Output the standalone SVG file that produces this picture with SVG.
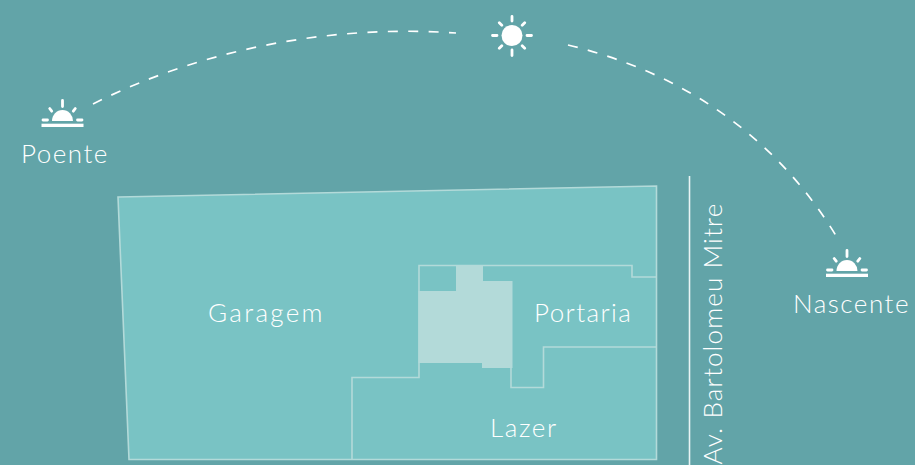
<svg xmlns="http://www.w3.org/2000/svg" width="915" height="465" viewBox="0 0 915 465">
<style>
text{font-family:Lato,"Open Sans",sans-serif;font-weight:300;font-size:26px;fill:#fff;letter-spacing:1.5px}
.l{fill:none;stroke:#b3dad9;stroke-width:1.6}
.d{fill:none;stroke:#fff;stroke-width:1.7;stroke-dasharray:10 10.4}
.r{fill:none;stroke:#fff;stroke-width:2.8;stroke-linecap:round}
</style>
<defs>
<g id="rise">
<path d="M-10.500 0A10.500 11 0 0 1 10.500 0Z" fill="#fff"/>
<path class="r" d="M0 -14.500V-20.500M-12.800 -12.500L-10.800 -9.800M12.800 -12.500L10.800 -9.800M-19.500 -1H-15M15 -1H19.500"/>
<rect x="-21" y="2.700" width="42" height="3.300" fill="#fff"/>
</g>
</defs>
<rect width="915" height="465" fill="#62a4a8"/>
<g id="site">
<path d="M118 197L656.500 186V459.500H129Z" fill="#79c3c4" stroke="#b3dad9" stroke-width="1.600"/>
</g>
<g id="core">
<path d="M418.500 291H456V265.500H483V281H512.500V368H482V363H418.500Z" fill="#b3dad9"/>
</g>
<g id="connectors">
<path class="l" d="M656 277H632V265.500H419V377.500H352V459.500"/>
<path class="l" d="M511 368V387.500H543.500V347H656"/>
<path class="d" d="M93 104C200 50 330 24 456 33"/>
<path class="d" d="M568 45C680 72 775 134 838 239"/>
<path d="M689.500 176V465" stroke="#e9f4f4" stroke-width="1.600" fill="none"/>
</g>
<g id="sun-noon">
<circle cx="512" cy="35.500" r="10.500" fill="#fff"/>
<path class="r" d="M512 16.500V21M512 50V55.500M492.500 35.500H497M527 35.500H531.500M499.300 22.800L501.800 25.300M522.200 45.700L524.700 48.200M499.300 48.200L501.800 45.700M522.200 25.300L524.700 22.800"/>
</g>
<g id="poente"><use href="#rise" x="62.500" y="121"/><text x="21" y="163" style="letter-spacing:1.5px">Poente</text></g>
<g id="nascente"><use href="#rise" x="847" y="271"/><text x="793" y="313" style="letter-spacing:1.5px">Nascente</text></g>
<g id="garagem"><text x="208" y="322" style="letter-spacing:2.3px">Garagem</text></g>
<g id="portaria"><text x="534" y="322" style="letter-spacing:1.4px">Portaria</text></g>
<g id="lazer"><text x="490" y="437" style="letter-spacing:1.6px">Lazer</text></g>
<g id="avenida"><text transform="translate(722 464.500) rotate(-90)" style="letter-spacing:1.15px">Av. Bartolomeu Mitre</text></g>
</svg>
